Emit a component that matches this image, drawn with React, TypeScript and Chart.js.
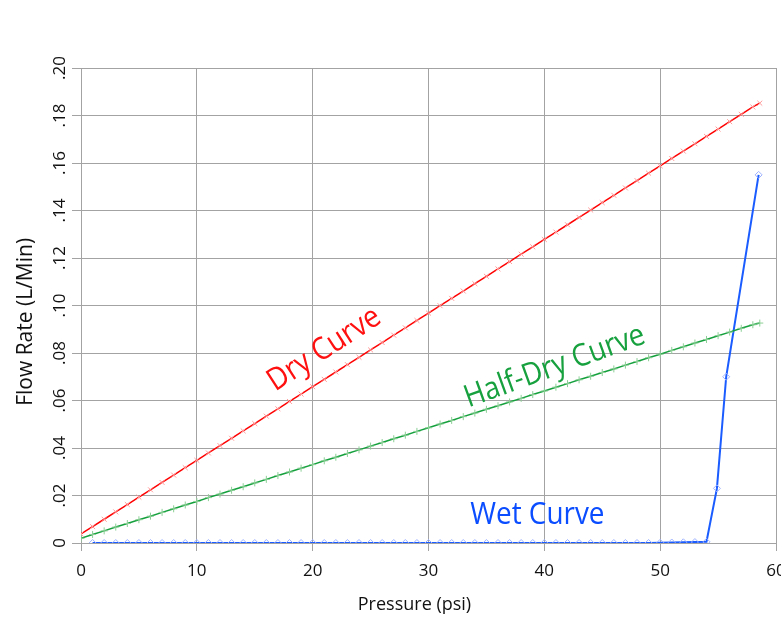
import React, { useEffect, useRef } from "react";
import { Chart, registerables } from "chart.js";

Chart.register(...registerables);

// Pressure (psi) sample points
const dryX = [0, 1, 2, 3, 4, 5, 6, 7, 8, 9, 10, 11, 12, 13, 14, 15, 16, 17, 18, 19, 20, 21, 22, 23, 24, 25, 26, 27, 28, 29, 30, 31, 32, 33, 34, 35, 36, 37, 38, 39, 40, 41, 42, 43, 44, 45, 46, 47, 48, 49, 50, 51, 52, 53, 54, 55, 56, 57, 58, 58.6];
const dryY = [0.0038, 0.0069, 0.0100, 0.0131, 0.0162, 0.0193, 0.0224, 0.0255, 0.0286, 0.0317, 0.0348, 0.0379, 0.0410, 0.0441, 0.0472, 0.0503, 0.0534, 0.0565, 0.0596, 0.0627, 0.0658, 0.0689, 0.0720, 0.0751, 0.0782, 0.0813, 0.0844, 0.0875, 0.0906, 0.0937, 0.0968, 0.0999, 0.1030, 0.1061, 0.1092, 0.1123, 0.1154, 0.1185, 0.1216, 0.1247, 0.1278, 0.1309, 0.1340, 0.1371, 0.1402, 0.1433, 0.1464, 0.1495, 0.1526, 0.1557, 0.1588, 0.1619, 0.1650, 0.1681, 0.1712, 0.1743, 0.1774, 0.1805, 0.1836, 0.1852];

const halfX = [0, 1, 2, 3, 4, 5, 6, 7, 8, 9, 10, 11, 12, 13, 14, 15, 16, 17, 18, 19, 20, 21, 22, 23, 24, 25, 26, 27, 28, 29, 30, 31, 32, 33, 34, 35, 36, 37, 38, 39, 40, 41, 42, 43, 44, 45, 46, 47, 48, 49, 50, 51, 52, 53, 54, 55, 56, 57, 58, 58.6];
const halfY = [0.0020, 0.0036, 0.0051, 0.0067, 0.0082, 0.0098, 0.0113, 0.0129, 0.0144, 0.0160, 0.0175, 0.0191, 0.0206, 0.0222, 0.0237, 0.0253, 0.0268, 0.0284, 0.0299, 0.0315, 0.0330, 0.0346, 0.0361, 0.0377, 0.0392, 0.0408, 0.0423, 0.0439, 0.0454, 0.0470, 0.0485, 0.0501, 0.0516, 0.0532, 0.0547, 0.0563, 0.0578, 0.0594, 0.0609, 0.0625, 0.0640, 0.0656, 0.0671, 0.0687, 0.0702, 0.0718, 0.0733, 0.0749, 0.0764, 0.0780, 0.0795, 0.0811, 0.0826, 0.0842, 0.0857, 0.0873, 0.0888, 0.0904, 0.0919, 0.0926];

const wetX = [1, 2, 3, 4, 5, 6, 7, 8, 9, 10, 11, 12, 13, 14, 15, 16, 17, 18, 19, 20, 21, 22, 23, 24, 25, 26, 27, 28, 29, 30, 31, 32, 33, 34, 35, 36, 37, 38, 39, 40, 41, 42, 43, 44, 45, 46, 47, 48, 49, 50, 51, 52, 53, 54, 54.9, 55.7, 58.5];
const wetY = [0, 0, 0, 0, 0, 0, 0, 0, 0, 0, 0, 0, 0, 0, 0, 0, 0, 0, 0, 0, 0, 0, 0, 0, 0, 0, 0, 0, 0, 0, 0, 0, 0, 0, 0, 0, 0, 0, 0, 0, 0, 0, 0, 0, 0, 0, 0, 0, 0, 0.0001, 0.0002, 0.0003, 0.0004, 0.0005, 0.023, 0.070, 0.155];

const xTicks = [0, 10, 20, 30, 40, 50, 60];
const yTicks = [0, 0.02, 0.04, 0.06, 0.08, 0.10, 0.12, 0.14, 0.16, 0.18, 0.20];

// Curve annotations: text, anchor (data coords), angle (deg), colour
const noteText = ["Dry Curve", "Half-Dry Curve", "Wet Curve"];
const noteX = [21.0, 40.9, 39.4];
const noteY = [0.0815, 0.0742, 0.0118];
const noteAngle = [-33, -20, 0];
const noteColor = ["#ff1010", "#17a03e", "#0a4cff"];

const toPts = (xs: number[], ys: number[]) => xs.map((x, i) => ({ x, y: ys[i] }));

const FONT = "'Open Sans', 'DejaVu Sans', sans-serif";

const notesPlugin = {
  id: "curveNotes",
  afterDatasetsDraw(chart: any) {
    const { ctx, scales } = chart;
    noteText.forEach((t, i) => {
      const px = scales.x.getPixelForValue(noteX[i]);
      const py = scales.y.getPixelForValue(noteY[i]);
      ctx.save();
      ctx.translate(px, py);
      ctx.rotate((noteAngle[i] * Math.PI) / 180);
      ctx.scale(0.9, 1);
      ctx.font = `31px ${FONT}`;
      ctx.fillStyle = noteColor[i];
      ctx.textAlign = "center";
      ctx.textBaseline = "middle";
      ctx.fillText(t, 0, 0);
      ctx.restore();
    });
  },
};

export default function App() {
  const ref = useRef<HTMLCanvasElement | null>(null);

  useEffect(() => {
    document.body.style.margin = "0";
    const canvas = ref.current;
    if (!canvas) return;
    const grid = "#a3a3a3";
    const chart = new Chart(canvas, {
      type: "scatter",
      data: {
        datasets: [
          {
            label: "Dry Curve",
            data: toPts(dryX, dryY),
            showLine: true,
            borderColor: "#ff0000",
            borderWidth: 1.5,
            pointStyle: "crossRot",
            pointRadius: 3.5,
            pointBorderColor: "#ff9a9a",
            pointBorderWidth: 1,
            pointBackgroundColor: "rgba(0,0,0,0)",
          },
          {
            label: "Half-Dry Curve",
            data: toPts(halfX, halfY),
            showLine: true,
            borderColor: "#14a03c",
            borderWidth: 1.5,
            pointStyle: "cross",
            pointRadius: 3.5,
            pointBorderColor: "#8ccf96",
            pointBorderWidth: 1,
            pointBackgroundColor: "rgba(0,0,0,0)",
          },
          {
            label: "Wet Curve",
            data: toPts(wetX, wetY),
            showLine: true,
            borderColor: "#1a5cff",
            borderWidth: 2,
            pointStyle: "rectRot",
            pointRadius: 3.5,
            pointBorderColor: "#9fb2ff",
            pointBorderWidth: 1,
            pointBackgroundColor: "rgba(0,0,0,0)",
          },
        ],
      },
      options: {
        animation: false,
        responsive: false,
        layout: { padding: { top: 68, right: 2, left: 0, bottom: 0 } },
        plugins: { legend: { display: false }, tooltip: { enabled: false } },
        scales: {
          x: {
            type: "linear",
            min: 0,
            max: 60,
            afterBuildTicks: (s: any) => {
              s.ticks = xTicks.map((v) => ({ value: v }));
            },
            afterFit: (s: any) => {
              s.height = 76;
              s.paddingLeft = 0;
              s.paddingRight = 0;
            },
            grid: { color: grid, lineWidth: 1, tickLength: 8, drawTicks: true },
            border: { color: grid },
            ticks: {
              color: "#111",
              font: { family: FONT, size: 17 },
              padding: 10,
              maxRotation: 0,
              minRotation: 0,
              callback: (v: any) => String(v),
            },
            title: {
              display: true,
              text: "Pressure (psi)      ",
              color: "#111",
              font: { family: FONT, size: 18 },
              padding: { top: 0, bottom: 3 },
            },
          },
          y: {
            type: "linear",
            min: 0,
            max: 0.2,
            afterBuildTicks: (s: any) => {
              s.ticks = yTicks.map((v) => ({ value: v }));
            },
            afterFit: (s: any) => {
              s.width = 81;
              s.paddingTop = 0;
              s.paddingBottom = 0;
            },
            grid: { color: grid, lineWidth: 1, tickLength: 9, drawTicks: true },
            border: { color: grid },
            ticks: {
              color: "#111",
              font: { family: FONT, size: 17 },
              padding: 0,
              minRotation: 90,
              maxRotation: 90,
              crossAlign: "center",
              callback: (v: any) => {
                const n = Math.round(Number(v) * 100);
                return n === 0 ? "0" : "." + String(n).padStart(2, "0");
              },
            },
            title: {
              display: true,
              text: "Flow Rate (L/Min)      ",
              color: "#111",
              font: { family: FONT, size: 21 },
              padding: { top: 13, bottom: 0 },
            },
          },
        },
      },
      plugins: [notesPlugin],
    } as any);
    return () => chart.destroy();
  }, []);

  return (
    <div style={{ position: "fixed", left: 0, top: 0, width: 781, height: 619, background: "#fff" }}>
      <canvas ref={ref} width={781} height={619} style={{ width: 781, height: 619, display: "block" }} />
    </div>
  );
}
